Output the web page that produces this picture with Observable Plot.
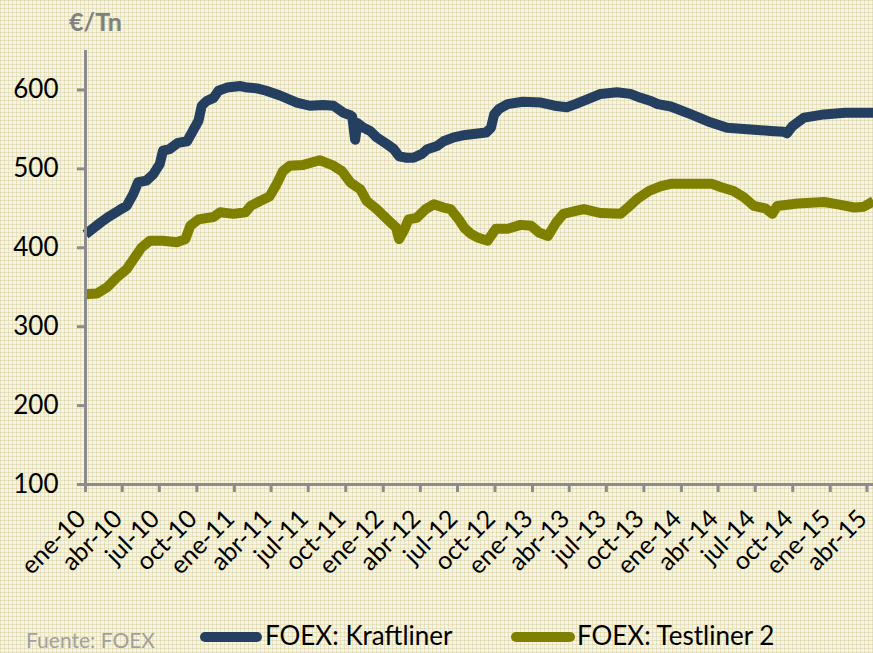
<!DOCTYPE html>
<html><head><meta charset="utf-8">
<script src="https://cdn.jsdelivr.net/npm/d3@7"></script>
<script src="https://cdn.jsdelivr.net/npm/@observablehq/plot@0.6"></script>
<style>
html,body{margin:0;padding:0;}
#wrap{position:relative;width:873px;height:653px;overflow:hidden;background-color:#f6f4e4;
background-image:linear-gradient(to bottom, rgba(200,192,130,0.32) 1px, transparent 1px), linear-gradient(to right, rgba(200,192,130,0.32) 1px, transparent 1px);
background-size:4px 4px;font-family:Lato, sans-serif;}
#unit{position:absolute;left:69px;top:6px;font-weight:bold;font-size:25px;color:#808080;}
#chart{position:absolute;left:0;top:0;}
.item{position:absolute;top:620px;font-size:26px;line-height:30px;color:#000;white-space:nowrap;}
.sw{position:absolute;top:632px;height:10px;border-radius:5px;}
#src{position:absolute;left:26px;top:627px;font-size:21px;line-height:25px;color:#a0a0a0;}
</style></head>
<body>
<div id="wrap">
  <div id="chart"></div>
  <div id="unit">€/Tn</div>
  <div class="sw" style="left:200px;width:62px;background:#243f60"></div>
  <div class="item" style="left:265px">FOEX: Kraftliner</div>
  <div class="sw" style="left:511px;width:64px;background:#808000"></div>
  <div class="item" style="left:577px">FOEX: Testliner 2</div>
  <div id="src">Fuente: FOEX</div>
</div>
<script>
const kraftDates = ["2010-01-01","2010-02-07","2010-03-01","2010-03-26","2010-04-12","2010-04-28","2010-05-10","2010-05-30","2010-06-16","2010-07-02","2010-07-10","2010-07-26","2010-08-16","2010-09-07","2010-09-19","2010-10-05","2010-10-13","2010-10-25","2010-11-11","2010-11-23","2010-12-14",
"2011-01-16","2011-02-02","2011-02-26","2011-03-20","2011-04-23","2011-06-03","2011-07-05","2011-08-07","2011-09-01","2011-09-26","2011-10-12","2011-10-17","2011-10-24","2011-10-30","2011-11-14","2011-11-30","2011-12-16",
"2012-01-11","2012-01-27","2012-02-09","2012-02-28","2012-03-15","2012-04-05","2012-04-18","2012-05-12","2012-05-28","2012-06-22","2012-07-20","2012-09-09","2012-09-21","2012-09-29","2012-10-11","2012-11-01","2012-12-08",
"2013-01-22","2013-02-24","2013-03-26","2013-04-16","2013-05-15","2013-06-17","2013-07-27","2013-08-29","2013-09-23","2013-10-18","2013-11-04","2013-12-06",
"2014-01-25","2014-03-13","2014-04-23","2014-06-20","2014-08-08","2014-09-09","2014-09-17","2014-09-30","2014-10-29","2014-12-17",
"2015-02-05","2015-03-24","2015-04-17"];
const kraftValues = [417,432,440,448,453,468,483,485,493,506,523,525,533,535,546,561,580,586,590,599,603,
605,603,602,599,593,584,580,581,580,571,568,566,537,558,552,548,540,
531,525,516,514,514,519,525,529,535,540,543,546,552,569,576,582,585,
584,580,578,582,588,595,597,595,590,586,582,579,
569,559,552,550,548,547,545,554,565,569,
571,571,571];

const testDates = ["2010-01-01","2010-01-29","2010-02-23","2010-03-18","2010-04-12","2010-05-02","2010-05-18","2010-06-08","2010-07-10","2010-08-13","2010-09-03","2010-09-15","2010-10-05","2010-11-11","2010-11-27","2010-12-30",
"2011-01-28","2011-02-10","2011-03-04","2011-03-28","2011-04-14","2011-04-30","2011-05-17","2011-06-19","2011-07-29","2011-09-01","2011-09-22","2011-10-12","2011-11-06","2011-11-22","2011-12-16",
"2012-01-15","2012-02-01","2012-02-09","2012-02-21","2012-03-03","2012-03-23","2012-04-14","2012-05-04","2012-05-28","2012-06-14","2012-07-04","2012-07-18","2012-08-02","2012-08-19","2012-09-13","2012-10-03","2012-11-01","2012-12-03","2012-12-28",
"2013-01-18","2013-02-08","2013-02-28","2013-03-18","2013-04-20","2013-05-07","2013-06-17","2013-08-05","2013-08-25","2013-09-15","2013-10-14","2013-11-12","2013-12-06",
"2014-01-25","2014-03-17","2014-04-07","2014-05-09","2014-06-03","2014-06-28","2014-07-26","2014-08-12","2014-08-24","2014-10-13","2014-12-17",
"2015-01-20","2015-03-01","2015-03-24","2015-04-17"];
const testValues = [341,342,350,362,373,388,400,409,409,407,411,428,436,439,445,443,
445,453,459,465,480,497,504,505,511,504,497,483,474,459,449,
434,426,411,422,436,438,449,455,451,449,436,425,418,413,409,424,424,429,428,
419,415,432,443,447,449,444,443,452,462,472,478,481,
481,481,477,472,464,453,450,443,453,456,458,
455,451,452,459];

const xTickDates = ["2010-01-01","2010-04-01","2010-07-01","2010-10-01","2011-01-01","2011-04-01","2011-07-01","2011-10-01","2012-01-01","2012-04-01","2012-07-01","2012-10-01","2013-01-01","2013-04-01","2013-07-01","2013-10-01","2014-01-01","2014-04-01","2014-07-01","2014-10-01","2015-01-01","2015-04-01"];
const xTickLabels = ["ene-10","abr-10","jul-10","oct-10","ene-11","abr-11","jul-11","oct-11","ene-12","abr-12","jul-12","oct-12","ene-13","abr-13","jul-13","oct-13","ene-14","abr-14","jul-14","oct-14","ene-15","abr-15"];
const yTicks = [100,200,300,400,500,600];

const kraft = kraftDates.map((d,i)=>({date:new Date(d), value:kraftValues[i]}));
const test = testDates.map((d,i)=>({date:new Date(d), value:testValues[i]}));
const xTicks = xTickDates.map(d=>new Date(d));
const x0 = new Date("2010-01-01"), x1 = new Date("2015-04-17");

const chart = Plot.plot({
  width: 873, height: 600,
  marginLeft: 85, marginRight: 0, marginTop: 50, marginBottom: 116,
  style: {background: "transparent", fontFamily: "Lato, sans-serif", fontSize: "26px", color: "#000", overflow: "visible"},
  x: {type: "utc", domain: [x0, x1]},
  y: {domain: [100, 650]},
  marks: [
    Plot.lineY(test, {x: "date", y: "value", stroke: "#808000", strokeWidth: 10, strokeLinejoin: "round", strokeLinecap: "butt"}),
    Plot.lineY(kraft, {x: "date", y: "value", stroke: "#243f60", strokeWidth: 10, strokeLinejoin: "round", strokeLinecap: "butt"}),
    Plot.ruleX([x0], {stroke: "#8c8c8c", strokeWidth: 3}),
    Plot.ruleY([100], {stroke: "#8c8c8c", strokeWidth: 3}),
    Plot.axisY({ticks: yTicks, tickSize: 8, tickPadding: 19, stroke: "#8c8c8c", strokeWidth: 3, label: null, fontSize: 26, color: "#000"}),
    Plot.axisX({ticks: xTicks, tickSize: 8, text: null, stroke: "#8c8c8c", strokeWidth: 3, label: null}),
    Plot.axisX({ticks: xTicks, tickFormat: (d,i)=>xTickLabels[i], tickRotate: -45, tickSize: 0, tickPadding: 30, dx: -4, label: null, fontSize: 25})
  ]
});
document.getElementById("chart").appendChild(chart);
</script>
</body></html>
